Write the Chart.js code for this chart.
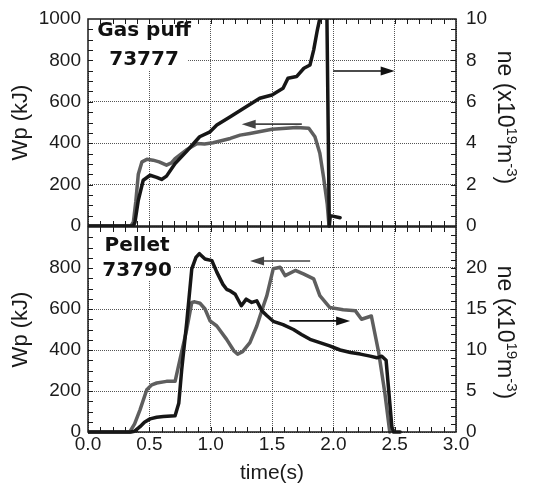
<!DOCTYPE html>
<html>
<head>
<meta charset="utf-8">
<script src="https://cdn.jsdelivr.net/npm/chart.js@4.4.0/dist/chart.umd.min.js"></script>
<style>
  body { margin: 0; background: #fff; }
  #wrap { position: relative; width: 533px; height: 488px; overflow: hidden; }
  canvas { position: absolute; left: 0; }
  #gas { top: -10px; }
  #pellet { top: 204px; }
</style>
</head>
<body>
<div id="wrap">
  <canvas id="gas" width="533" height="260"></canvas>
  <canvas id="pellet" width="533" height="284"></canvas>
</div>
<script>
// shot 73777, gas puff: stored energy Wp (kJ)
const gasWpTime = [0, 0.35, 0.37, 0.39, 0.41, 0.44, 0.48, 0.53, 0.58, 0.64, 0.68, 0.71, 0.80, 0.89, 0.95, 1.02, 1.16, 1.24, 1.32, 1.50, 1.70, 1.80, 1.85, 1.89, 1.92, 1.95, 1.965];
const gasWp     = [0, 0, 20, 120, 250, 310, 322, 318, 310, 294, 305, 326, 367, 399, 396, 402, 423, 439, 447, 467, 476, 472, 431, 351, 237, 108, 0];
// shot 73777: density ne (x10^19 m^-3)
const gasNeTime = [0, 0.37, 0.383, 0.41, 0.45, 0.506, 0.56, 0.60, 0.64, 0.71, 0.80, 0.91, 0.995, 1.05, 1.16, 1.27, 1.40, 1.50, 1.59, 1.63, 1.70, 1.76, 1.81, 1.84, 1.87, 1.90, 1.947, 1.967, 1.975, 2.055];
const gasNe     = [0, 0, 0.19, 1.24, 2.21, 2.45, 2.35, 2.25, 2.41, 3.02, 3.58, 4.31, 4.55, 4.88, 5.28, 5.69, 6.17, 6.33, 6.65, 7.14, 7.22, 7.62, 7.78, 8.51, 9.48, 10.3, 10.5, 0, 0.5, 0.4];

// shot 73790, pellet
const pelWpTime = [0, 0.34, 0.38, 0.424, 0.479, 0.52, 0.56, 0.64, 0.71, 0.75, 0.805, 0.846, 0.87, 0.913, 0.954, 0.995, 1.05, 1.13, 1.19, 1.22, 1.26, 1.32, 1.376, 1.43, 1.458, 1.51, 1.566, 1.607, 1.69, 1.756, 1.84, 1.89, 1.97, 2.08, 2.18, 2.23, 2.31, 2.37, 2.42, 2.46];
const pelWp     = [0, 0, 40, 108, 206, 230, 239, 247, 247, 354, 501, 632, 635, 628, 600, 542, 517, 452, 395, 380, 392, 436, 517, 616, 665, 796, 804, 763, 788, 771, 747, 665, 608, 596, 591, 550, 566, 387, 190, 0];
const pelNeTime = [0, 0.35, 0.38, 0.424, 0.46, 0.506, 0.56, 0.614, 0.71, 0.74, 0.764, 0.805, 0.846, 0.88, 0.908, 0.954, 1.01, 1.05, 1.10, 1.13, 1.16, 1.20, 1.25, 1.29, 1.335, 1.376, 1.417, 1.457, 1.51, 1.59, 1.675, 1.74, 1.81, 1.89, 1.97, 2.055, 2.14, 2.22, 2.30, 2.355, 2.395, 2.43, 2.477, 2.49, 2.545];
const pelNe     = [0, 0, 0.1, 0.65, 1.2, 1.6, 1.8, 1.88, 1.97, 3.5, 7.6, 13.4, 19.9, 21.3, 21.75, 21.1, 20.9, 19.5, 18.0, 17.4, 17.2, 16.8, 15.4, 16.2, 15.8, 16.0, 14.8, 14.2, 13.5, 13.1, 12.5, 11.9, 11.3, 10.9, 10.5, 10.0, 9.7, 9.5, 9.25, 9.05, 9.25, 8.75, 0.65, 0, 0];

const font = '"Liberation Sans", Arial, sans-serif';
Chart.defaults.font.family = font;
Chart.defaults.color = '#1a1a1a';

function pts(t, v) {
  return t.map((x, i) => ({ x: x, y: v[i] }));
}

function pixSteps(scale, step) {
  const out = [];
  const n = Math.round((scale.max - scale.min) / step);
  for (let i = 1; i < n; i++) {
    out.push(Math.round(scale.getPixelForValue(scale.min + i * step)) + 0.5);
  }
  return out;
}

// frame, inward ticks, arrows, label boxes, right axis title
const frame = {
  id: 'frame',
  beforeDatasetsDraw(chart, args, o) {
    const ctx = chart.ctx, sx = chart.scales.x, sy = chart.scales.y;
    const l = sx.getPixelForValue(0), r = sx.getPixelForValue(o.box[0]);
    const t = sy.getPixelForValue(1000), b = sy.getPixelForValue(o.box[1]);
    ctx.save();
    ctx.fillStyle = '#fff';
    ctx.fillRect(l, t, r - l, b - t);
    ctx.fillStyle = '#111';
    ctx.font = 'bold 20px "DejaVu Sans"';
    ctx.textAlign = 'center';
    ctx.textBaseline = 'alphabetic';
    o.text.forEach((s, i) => {
      ctx.fillText(s, sx.getPixelForValue(o.textAt[0]), sy.getPixelForValue(o.textAt[1][i]));
    });
    ctx.restore();
  },
  afterDraw(chart, args, o) {
    const ctx = chart.ctx, a = chart.chartArea;
    const sx = chart.scales.x, sy = chart.scales.y, sn = chart.scales.y1;
    ctx.save();
    ctx.strokeStyle = '#1a1a1a';
    ctx.lineWidth = 1;
    ctx.beginPath();
    pixSteps(sx, o.minor[0]).forEach(p => {
      ctx.moveTo(p, a.top); ctx.lineTo(p, a.top + 5);
      ctx.moveTo(p, a.bottom); ctx.lineTo(p, a.bottom - 5);
    });
    pixSteps(sy, o.minor[1]).forEach(p => {
      ctx.moveTo(a.left, p); ctx.lineTo(a.left + 5, p);
    });
    pixSteps(sn, o.minor[2]).forEach(p => {
      ctx.moveTo(a.right, p); ctx.lineTo(a.right - 5, p);
    });
    ctx.stroke();
    ctx.lineWidth = 1.5;
    ctx.strokeRect(a.left, a.top, a.right - a.left, a.bottom - a.top);

    // arrows pointing to the axis each curve belongs to
    o.arrows.forEach(ar => {
      const s = chart.scales[ar.axis];
      const x0 = sx.getPixelForValue(ar.from), x1 = sx.getPixelForValue(ar.to);
      const y = s.getPixelForValue(ar.at);
      const dir = x1 > x0 ? 1 : -1;
      ctx.strokeStyle = ar.color;
      ctx.fillStyle = ar.color;
      ctx.lineWidth = 1.6;
      ctx.beginPath();
      ctx.moveTo(x0, y);
      ctx.lineTo(x1 - dir * 10, y);
      ctx.stroke();
      ctx.beginPath();
      ctx.moveTo(x1, y);
      ctx.lineTo(x1 - dir * 14, y - 4.5);
      ctx.lineTo(x1 - dir * 14, y + 4.5);
      ctx.closePath();
      ctx.fill();
    });

    // right axis title with superscripts
    ctx.fillStyle = '#1a1a1a';
    ctx.translate(sn.right - 35, (a.top + a.bottom) / 2 + o.titleShift);
    ctx.rotate(Math.PI / 2);
    const parts = [['ne (x10', 23, 0], ['19', 15, -9], ['m', 23, 0], ['-3', 15, -9], [')', 23, 0]];
    let w = 0;
    parts.forEach(p => { ctx.font = p[1] + 'px ' + font; w += ctx.measureText(p[0]).width; });
    let x = -w / 2;
    ctx.textAlign = 'left';
    ctx.textBaseline = 'alphabetic';
    parts.forEach(p => {
      ctx.font = p[1] + 'px ' + font;
      ctx.fillText(p[0], x, p[2]);
      x += ctx.measureText(p[0]).width;
    });
    ctx.restore();
  }
};

function lineSet(label, data, axis, color, order) {
  return {
    label: label,
    data: data,
    yAxisID: axis,
    borderColor: color,
    borderWidth: 3.5,
    pointRadius: 0,
    tension: 0,
    borderJoinStyle: 'round',
    borderCapStyle: 'round',
    clip: { left: 0, top: 0, right: 0, bottom: 2 },
    order: order
  };
}

function panel(id, wp, ne, neMax, neStep, isBottom, deco) {
  const tickFont = { size: 19 };
  return new Chart(document.getElementById(id), {
    type: 'line',
    data: {
      datasets: [
        lineSet('Wp', wp, 'y', '#5e5e5e', 2),
        lineSet('ne', ne, 'y1', '#161616', 1)
      ]
    },
    options: {
      responsive: false,
      animation: false,
      devicePixelRatio: 1,
      events: [],
      layout: { padding: isBottom ? { top: 23, bottom: 0, left: 0, right: 0 } : { top: 29, bottom: 24, left: 0, right: 0 } },
      plugins: {
        legend: { display: false },
        tooltip: { enabled: false },
        frame: deco
      },
      scales: {
        x: {
          type: 'linear',
          min: 0,
          max: 3,
          ticks: {
            display: isBottom,
            stepSize: 0.5,
            padding: 1,
            font: tickFont,
            callback: v => v.toFixed(1)
          },
          grid: { color: '#555', lineWidth: 1, drawTicks: false },
          border: { display: false, dash: [1, 1] },
          title: {
            display: isBottom,
            text: 'time(s)',
            font: { size: 21 },
            padding: { top: 0, bottom: 2 }
          },
          afterFit: s => { s.height = isBottom ? 56 : 0; }
        },
        y: {
          position: 'left',
          min: 0,
          max: 1000,
          ticks: {
            stepSize: 200,
            padding: 7,
            font: tickFont,
            callback: v => (isBottom && v === 1000) ? null : String(v)
          },
          grid: { color: '#555', lineWidth: 1, drawTicks: false },
          border: { display: false, dash: [1, 1] },
          title: {
            display: true,
            text: 'Wp (kJ)',
            font: { size: 22 },
            padding: { top: 8, bottom: 0 }
          },
          afterFit: s => { s.width = 88; }
        },
        y1: {
          position: 'right',
          min: 0,
          max: neMax,
          ticks: {
            stepSize: neStep,
            padding: 10,
            font: tickFont,
            callback: v => (isBottom && v === neMax) ? null : String(v)
          },
          grid: { drawOnChartArea: false, drawTicks: false },
          border: { display: false },
          afterFit: s => { s.width = 77; }
        }
      }
    },
    plugins: [frame]
  });
}

panel('gas', pts(gasWpTime, gasWp), pts(gasNeTime, gasNe), 10, 2, false, {
  minor: [0.1, 50, 0.5],
  box: [0.816, 754],
  text: ['Gas puff', '73777'],
  textAt: [0.457, [916, 778]],
  titleShift: -5,
  arrows: [
    { from: 1.743, to: 1.253, at: 492, axis: 'y', color: '#444' },
    { from: 1.999, to: 2.50, at: 7.49, axis: 'y1', color: '#111' }
  ]
});

panel('pellet', pts(pelWpTime, pelWp), pts(pelNeTime, pelNe), 25, 5, true, {
  minor: [0.1, 50, 1],
  box: [0.693, 739],
  text: ['Pellet', '73790'],
  textAt: [0.40, [885, 762]],
  titleShift: 3,
  arrows: [
    { from: 1.811, to: 1.321, at: 834, axis: 'y', color: '#444' },
    { from: 1.642, to: 2.137, at: 13.55, axis: 'y1', color: '#111' }
  ]
});
</script>
</body>
</html>
